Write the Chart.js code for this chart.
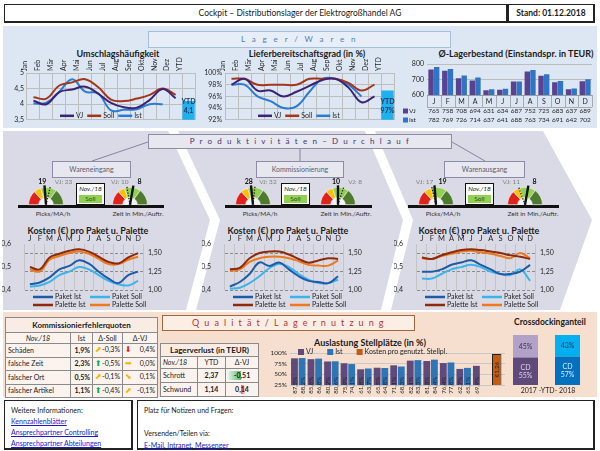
<!DOCTYPE html>
<html lang="de">
<head>
<meta charset="utf-8">
<title>Cockpit Distributionslager</title>
<script src="https://cdn.jsdelivr.net/npm/chart.js@4.4.1/dist/chart.umd.min.js"></script>
<style>
  body { margin:0; width:600px; height:451px; position:relative; overflow:hidden; background:#fff; font-family:Lato, 'Open Sans', sans-serif; color:#1a1a1a; }
  .abs { position:absolute; box-sizing:border-box; white-space:nowrap; }
  canvas { position:absolute; }
  .frame { border:1px solid #222; border-right-width:2px; border-bottom-width:2px; background:#fff; }
  .ttl { position:absolute; font-weight:bold; font-size:9px; text-align:center; white-space:nowrap; transform:translateX(-50%); }
  .sub { position:absolute; box-sizing:border-box; height:17px; background:#e7e7f0; border:1px solid #8c8ca8; color:#5b5b70; font-size:7px; text-align:center; line-height:15px; }
  .lbl { position:absolute; font-size:6.5px; color:#333; white-space:nowrap; transform:translateX(-50%); }
  .soll { position:absolute; box-sizing:border-box; border:1.5px solid #111; background:#fff; width:29px; height:22px; text-align:center; font-size:6.5px; line-height:8px; }
  .soll i { display:block; margin-top:1px; }
  .soll b { display:block; font-weight:normal; margin:2px 2px 0; background:#92d050; color:#2f4f1f; line-height:8px; }
  table { position:absolute; border-collapse:collapse; font-size:7px; table-layout:fixed; background:#fcf3ee; }
  td { border:1px solid #8a8a8a; padding:0 2px; white-space:nowrap; overflow:hidden; line-height:1; }
  td.th { font-weight:bold; font-size:8px; text-align:center; background:#f9ece4; }
  td.it { font-style:italic; }
  td.c { text-align:center; }
  td.r { text-align:right; }
  td.b { font-weight:bold; }
  .pf { font-family:'DejaVu Sans', sans-serif; font-size:8px; }
  .fr { float:right; }
  a { color:#1a1acc; text-decoration:underline; }
</style>
</head>
<body>

<svg class="abs" width="600" height="451" style="left:0;top:0">
  <rect x="3" y="26" width="594" height="102" fill="#dde7f3"/>
  <polygon points="3,131 168,131 210,220 186,310 3,310" fill="#dadae6"/>
  <polygon points="178,131 365,131 403,220 381,310 196,310 220,220" fill="#dadae6"/>
  <polygon points="375,131 543,131 592,220 560,310 391,310 413,220" fill="#dadae6"/>
  <rect x="3" y="312" width="594" height="85" fill="#f6dfcf"/>
  <line x1="148" y1="142" x2="92" y2="161" stroke="#6f6f90" stroke-width="0.8"/>
  <line x1="300" y1="149" x2="300" y2="161" stroke="#6f6f90" stroke-width="0.8"/>
  <line x1="452" y1="142" x2="485" y2="161" stroke="#6f6f90" stroke-width="0.8"/>
</svg>

<!-- Kopf -->
<div class="abs frame" style="left:4px;top:4px;width:504px;height:19px"></div>
<div class="abs" style="left:0;top:4px;width:600px;height:19px;line-height:18px;text-align:center;font-size:8.5px">Cockpit – Distributionslager der Elektrogroßhandel AG</div>
<div class="abs frame" style="left:508px;top:4px;width:87px;height:19px;line-height:17px;text-align:center;font-size:8.5px;font-weight:bold">Stand: 01.12.2018</div>

<!-- Lager / Waren -->
<div class="abs" style="left:148px;top:31px;width:303px;height:17px;background:#e8eef7;border:1px solid #a5bfdc;color:#4a7ebb;font-size:8px;line-height:15px;text-align:center;letter-spacing:2.4px">L a g e r / W a r e n</div>
<div class="ttl" style="left:118px;top:48px">Umschlagshäufigkeit</div>
<div class="ttl" style="left:307px;top:48px">Lieferbereitschaftsgrad (in %)</div>
<div class="ttl" style="left:516px;top:48px">Ø-Lagerbestand (Einstandspr. in TEUR)</div>
<canvas id="cUmschlag" width="195" height="71" style="left:3px;top:56px"></canvas>
<canvas id="cLiefer" width="197" height="71" style="left:200px;top:56px"></canvas>
<canvas id="cBestand" width="197" height="68" style="left:400px;top:57px"></canvas>

<!-- Produktivitaeten -->
<div class="abs" style="left:148px;top:134px;width:304px;height:15px;background:#e7e7f0;border:1px solid #8d8da8;color:#3d3570;font-size:8px;line-height:13px;text-align:center;letter-spacing:1.6px">P r o d u k t i v i t ä t e n – D u r c h l a u f</div>
<div class="sub" style="left:52px;top:161px;width:79px">Wareneingang</div>
<div class="sub" style="left:256px;top:161px;width:88px">Kommissionierung</div>
<div class="sub" style="left:444px;top:161px;width:81px">Warenausgang</div>

<div class="ttl" style="left:88px;top:225px">Kosten (€) pro Paket u. Palette</div>
<div class="ttl" style="left:288px;top:225px">Kosten (€) pro Paket u. Palette</div>
<div class="ttl" style="left:479px;top:225px">Kosten (€) pro Paket u. Palette</div>
<canvas id="cKostenWE" width="166" height="78" style="left:2px;top:234px"></canvas>
<canvas id="cKostenKO" width="166" height="78" style="left:202px;top:234px"></canvas>
<canvas id="cKostenWA" width="166" height="78" style="left:394px;top:234px"></canvas>

<!-- Qualitaet / Lagernutzung -->
<table id="tFehler" style="left:5px;top:317px;width:152px"></table>
<div class="abs" style="left:162px;top:315px;width:253px;height:16px;background:#fbeee5;border:1px solid #a5673f;color:#b8332a;font-size:9px;line-height:14px;text-align:center;letter-spacing:1.4px">Q u a l i t ä t / L a g e r n u t z u n g</div>
<table id="tVerlust" style="left:160px;top:343px;width:98px"></table>
<div class="ttl" style="left:370px;top:337px">Auslastung Stellplätze (in %)</div>
<canvas id="cAuslastung" width="247" height="52" style="left:258px;top:345px"></canvas>
<div class="ttl" style="left:550px;top:317px;font-size:8.5px">Crossdockinganteil</div>
<canvas id="cCross" width="95" height="52" style="left:500px;top:333px"></canvas>
<div id="crossJahre" class="abs" style="left:505px;top:386px;width:86px;text-align:center;font-size:7px;color:#262626"></div>

<!-- Fuss -->
<div class="abs frame" style="left:4px;top:400px;width:129px;height:50px;padding:4px 6px;font-size:7px;line-height:11px">
  Weitere Informationen:<br><a>Kennzahlenblätter</a><br><a>Ansprechpartner Controlling</a><br><a>Ansprechpartner Abteilungen</a>
</div>
<div class="abs frame" style="left:137px;top:400px;width:458px;height:50px;padding:4px 6px;font-size:7px;line-height:11.5px">
  Platz für Notizen und Fragen:<br><br>Versenden/Teilen via:<br><a>E-Mail</a>, <a>Intranet</a>, <a>Messenger</a>
</div>

<script>
// Monate
const monate = ['Jan', 'Feb', 'Mär', 'Apr', 'Mai', 'Jun', 'Jul', 'Aug', 'Sep', 'Okt', 'Nov', 'Dez', 'YTD'];
const mKurz = ['J', 'F', 'M', 'A', 'M', 'J', 'J', 'A', 'S', 'O', 'N', 'D'];

// Umschlagshaeufigkeit
const umschlagVJ = [4.11, 4.0, 4.39, 4.47, 4.56, 4.34, 4.04, 3.9, 3.89, 4.14, 4.49, 4.19];
const umschlagSoll = [4.22, 4.18, 4.6, 4.7, 4.8, 4.55, 4.15, 4.1, 4.18, 4.3, 4.5, 4.3];
const umschlagIst = [4.02, 4.05, 4.4, 4.8, 4.4, 4.35, 3.8, 3.82, 3.84, 4.0, 4.0, null];
const umschlagYTD = 4.1;

// Lieferbereitschaftsgrad
const lieferVJ = [98, 99, 97, 97, 96, 96.8, 97.8, 98.8, 99, 97.5, 95, 96];
const lieferSoll = [99, 99, 98, 98, 98, 98, 99, 99, 99, 98.3, 97, 98];
const lieferIst = [98, 98, 96, 95.2, 94, 94.3, 96.8, 99, 99, 98, 96, null];
const lieferYTD = 97;

// Lagerbestand
const bestandVJ = [765, 758, 708, 694, 631, 634, 687, 752, 725, 683, 637, 689];
const bestandIst = [782, 769, 726, 714, 637, 641, 688, 763, 734, 691, 642, 702];

// Tachos
const tachoBaender = [27, 13, 30, 30];
const tachoFarben = ['#e0221c', '#ffc000', '#92d050', '#4e7a2e'];
const picksIst = [19, 28, 19];
const picksVJ = [23, 32, 17];
const picksMax = [40, 60, 40];
const zeitIst = [8, 10, 8];
const zeitVJ = [10, 8, 11];
const zeitMax = [18, 20, 18];

// Kosten pro Paket / Palette
const wePaketIst = [0.425, 0.433, 0.455, 0.49, 0.505, 0.53, 0.515, 0.48, 0.45, 0.43, 0.465, 0.48];
const wePaketSoll = [0.415, 0.42, 0.435, 0.465, 0.48, 0.5, 0.49, 0.465, 0.44, 0.425, 0.42, 0.44];
const wePaletteIst = [1.31, 1.28, 1.44, 1.49, 1.53, 1.55, 1.52, 1.45, 1.38, 1.36, 1.44, 1.5];
const wePaletteSoll = [1.28, 1.25, 1.41, 1.46, 1.5, 1.52, 1.49, 1.42, 1.35, 1.35, 1.41, 1.45];
const koPaketIst = [0.415, 0.435, 0.47, 0.52, 0.505, 0.52, 0.49, 0.46, 0.44, 0.435, 0.43, 0.46];
const koPaketSoll = [0.405, 0.41, 0.43, 0.46, 0.495, 0.515, 0.5, 0.47, 0.445, 0.43, 0.43, 0.445];
const koPaletteIst = [1.28, 1.3, 1.43, 1.5, 1.52, 1.52, 1.48, 1.42, 1.37, 1.4, 1.43, 1.42];
const koPaletteSoll = [1.26, 1.28, 1.38, 1.43, 1.45, 1.45, 1.43, 1.39, 1.34, 1.33, 1.33, 1.4];
const waPaketIst = [0.48, 0.48, 0.49, 0.51, 0.52, 0.53, 0.51, 0.49, 0.47, 0.47, 0.48, 0.51];
const waPaketSoll = [0.45, 0.45, 0.47, 0.49, 0.5, 0.51, 0.5, 0.48, 0.47, 0.465, 0.49, 0.44];
const waPaletteIst = [1.44, 1.42, 1.47, 1.51, 1.54, 1.55, 1.54, 1.52, 1.5, 1.47, 1.45, 1.42];
const waPaletteSoll = [1.43, 1.42, 1.46, 1.49, 1.52, 1.53, 1.51, 1.49, 1.46, 1.43, 1.5, 1.43];

// Kommissionierfehlerquoten
const fqArten = ['Schäden', 'falsche Zeit', 'falscher Ort', 'falscher Artikel'];
const fqIst = [1.9, 2.3, 0.5, 1.1];
const fqDeltaSoll = [-0.3, -0.5, -0.1, -0.4];
const fqDeltaVJ = [0.4, 0.0, 0.1, -0.1];
const fqPfeilSoll = ['no', 'auf', 'no', 'auf'];
const fqPfeilVJ = ['ab', 'rechts', 'so', 'no'];

// Lagerverlust
const lvArten = ['Schrott', 'Schwund'];
const lvYTD = [2.37, 1.14];
const lvDeltaVJ = [-0.51, 0.14];

// Auslastung Stellplaetze
const auslastVJ = [87.5, 85.6, 80.2, 75.9, 61.8, 65.5, 71.1, 82.1, 81.3, 76.4, 62.7, 69.9];
const auslastIst = [88.2, 86.8, 80.6, 74.1, 63.7, 64.8, 68.3, 83.3, 84.4, 77.8, 65.1, null];
const kostenStellplatz = 1.26;

// Crossdocking
const cdJahre = ['2017', '2018'];
const cdAnteil = [55, 57];
const cdRest = [45, 43];

const deZahl = (v, d) => v.toFixed(d).replace('.', ',');

Chart.defaults.font.family = 'Lato';
Chart.defaults.font.size = 7;
Chart.defaults.color = '#262626';
Chart.defaults.animation = false;
Chart.defaults.responsive = false;
Chart.defaults.plugins.legend.display = false;
Chart.defaults.plugins.tooltip.enabled = false;
Chart.defaults.elements.point.radius = 0;

// kleine Legende direkt im Diagramm
const keys = {
    id: 'keys',
    afterDraw(chart, args, o) {
        if (!o.mode) return;
        const { ctx, chartArea: ca } = chart;
        ctx.save();
        ctx.font = (o.size || 7) + 'px Lato';
        ctx.textBaseline = 'middle';
        let x = ca.left + o.x;
        const y = (o.from === 'top' ? ca.top : ca.bottom) + o.y;
        chart.data.datasets.forEach((ds, i) => {
            if (ds.noKey) return;
            let px = x, py = y;
            if (o.cols) {
                px = ca.left + o.x + (i % o.cols) * o.colW;
                py = y + Math.floor(i / o.cols) * o.rowH;
            }
            if (o.mode === 'line') {
                ctx.strokeStyle = ds.borderColor;
                ctx.lineWidth = 2.5;
                ctx.beginPath(); ctx.moveTo(px, py); ctx.lineTo(px + o.len, py); ctx.stroke();
            } else {
                ctx.fillStyle = ds.backgroundColor;
                ctx.fillRect(px, py - 3, o.len, 6);
            }
            ctx.fillStyle = '#262626';
            ctx.fillText(ds.label, px + o.len + 2, py);
            x = px + o.len + 2 + ctx.measureText(ds.label).width + o.gap;
        });
        ctx.restore();
    }
};

// YTD-Beschriftung im Balken
const ytdLabel = {
    id: 'ytdLabel',
    afterDatasetsDraw(chart) {
        chart.data.datasets.forEach((ds, i) => {
            if (!ds.ytdText) return;
            const bar = chart.getDatasetMeta(i).data[ds.data.length - 1];
            const ctx = chart.ctx;
            const b = chart.chartArea.bottom;
            ctx.save();
            ctx.font = 'bold 7px Lato';
            ctx.fillStyle = '#1f3864';
            ctx.textAlign = 'center';
            ctx.textBaseline = 'middle';
            ctx.fillText('YTD', bar.x, b - 18);
            ctx.fillText(ds.ytdText, bar.x, b - 9);
            ctx.restore();
        });
    }
};

// Tabelle unter dem Lagerbestand
const bestandTabelle = {
    id: 'bestandTabelle',
    afterDraw(chart, args, o) {
        if (!o.rows) return;
        const { ctx, chartArea: ca, scales: { x } } = chart;
        const n = chart.data.labels.length;
        const w = (ca.right - ca.left) / n;
        ctx.save();
        ctx.strokeStyle = '#8f8f8f';
        ctx.lineWidth = 0.7;
        ctx.beginPath();
        ctx.moveTo(ca.left, ca.bottom + 0.5); ctx.lineTo(ca.right, ca.bottom + 0.5);
        ctx.moveTo(ca.left, ca.bottom + 12.5); ctx.lineTo(ca.right, ca.bottom + 12.5);
        for (let i = 0; i <= n; i++) {
            const xb = Math.round(ca.left + i * w) + 0.5;
            ctx.moveTo(xb, ca.bottom); ctx.lineTo(xb, ca.bottom + 12);
        }
        ctx.stroke();
        ctx.textAlign = 'center';
        ctx.textBaseline = 'middle';
        ctx.fillStyle = '#262626';
        ctx.font = '7px Lato';
        chart.data.labels.forEach((l, i) => ctx.fillText(l, x.getPixelForValue(i), ca.bottom + o.rows[0]));
        ctx.font = '6.5px Lato';
        chart.data.datasets.forEach((ds, j) => {
            const yy = ca.bottom + o.rows[j + 1];
            ctx.textAlign = 'center';
            ctx.fillStyle = '#262626';
            ds.data.forEach((v, i) => ctx.fillText(v, x.getPixelForValue(i), yy));
            ctx.fillStyle = ds.backgroundColor;
            ctx.fillRect(ca.left - 24, yy - 2.5, 5, 5);
            ctx.fillStyle = '#262626';
            ctx.textAlign = 'left';
            ctx.fillText(ds.label, ca.left - 18, yy);
        });
        ctx.restore();
    }
};

// Werte in den Balken
const barText = {
    id: 'barText',
    afterDatasetsDraw(chart, args, o) {
        if (!o.mode) return;
        const ctx = chart.ctx;
        chart.data.datasets.forEach((ds, i) => {
            if (!ds.valueText) return;
            chart.getDatasetMeta(i).data.forEach((bar, j) => {
                const v = ds.data[j];
                if (v === null || v === undefined) return;
                ctx.save();
                ctx.fillStyle = Array.isArray(ds.textColor) ? ds.textColor[j] : (ds.textColor || '#222');
                ctx.textBaseline = 'middle';
                if (o.mode === 'vertical') {
                    ctx.font = '6px Lato';
                    if (ds.centerText) {
                        ctx.translate(bar.x, (bar.y + bar.base) / 2);
                        ctx.textAlign = 'center';
                    } else {
                        ctx.translate(bar.x, bar.base - 2);
                        ctx.textAlign = 'left';
                    }
                    ctx.rotate(-Math.PI / 2);
                    ctx.fillText(ds.valueText(v), 0, 0.5);
                } else {
                    ctx.font = '7px Lato';
                    ctx.textAlign = 'center';
                    const zeilen = ds.valueText(v).split('\n');
                    const mid = (bar.y + bar.base) / 2;
                    zeilen.forEach((z, k) => ctx.fillText(z, bar.x, mid + (k - (zeilen.length - 1) / 2) * 8));
                }
                ctx.restore();
            });
        });
    }
};

// Tachonadeln
const tachoNadel = {
    id: 'tachoNadel',
    beforeDatasetsDraw(chart, args, o) {
        if (o.value === undefined) return;
        const arc = chart.getDatasetMeta(0).data[0];
        const ctx = chart.ctx;
        ctx.save();
        ctx.fillStyle = '#f3f3f3';
        ctx.beginPath();
        ctx.arc(arc.x, arc.y, arc.innerRadius, Math.PI, 2 * Math.PI);
        ctx.fill();
        ctx.restore();
    },
    afterDatasetsDraw(chart, args, o) {
        if (o.value === undefined) return;
        const arc = chart.getDatasetMeta(0).data[0];
        const cx = arc.x, cy = arc.y, r = arc.outerRadius;
        const ctx = chart.ctx;
        const winkel = v => {
            let f = Math.min(Math.max(v / o.max, 0), 1);
            if (o.reverse) f = 1 - f;
            return Math.PI * (1 + f);
        };
        const nadel = (v, gepunktet) => {
            const w = winkel(v);
            ctx.save();
            ctx.strokeStyle = '#111';
            ctx.lineWidth = gepunktet ? 1.3 : 2.4;
            ctx.setLineDash(gepunktet ? [1.2, 1.6] : []);
            ctx.beginPath();
            ctx.moveTo(cx, cy);
            ctx.lineTo(cx + (r + 2) * Math.cos(w), cy + (r + 2) * Math.sin(w));
            ctx.stroke();
            ctx.restore();
            return cx + (r + 3) * Math.cos(w);
        };
        const xVJ = nadel(o.vj, true);
        const xIst = nadel(o.value, false);
        const y = chart.chartArea.top - 5;
        const texte = [
            { x: xIst, t: String(o.value), f: 'bold 7px Lato', c: '#111' },
            { x: xVJ, t: 'VJ: ' + o.vj, f: '6.5px Lato', c: '#808080' }
        ].sort((p, q) => p.x - q.x);
        ctx.save();
        ctx.textBaseline = 'middle';
        ctx.font = texte[0].f; ctx.fillStyle = texte[0].c; ctx.textAlign = 'right';
        ctx.fillText(texte[0].t, texte[0].x + 2, y);
        ctx.font = texte[1].f; ctx.fillStyle = texte[1].c; ctx.textAlign = 'left';
        ctx.fillText(texte[1].t, texte[1].x + 4, y);
        ctx.restore();
    }
};

Chart.register(keys, ytdLabel, bestandTabelle, barText, tachoNadel);

// ---------- Lager / Waren ----------
function lagerLinien(id, vj, soll, ist, ytd, ytdText, yMin, yMax, yStep, yFmt, yBreite) {
    const ytdReihe = monate.map((m, i) => (i === monate.length - 1 ? ytd : null));
    return new Chart(document.getElementById(id), {
        type: 'line',
        data: {
            labels: monate,
            datasets: [
                { label: 'VJ', data: vj, borderColor: '#3b2274' },
                { label: 'Soll', data: soll, borderColor: '#a3351c' },
                { label: 'Ist', data: ist, borderColor: '#2c7bd3' },
                { type: 'bar', label: 'YTD', data: ytdReihe, backgroundColor: '#1fb1ee', categoryPercentage: 1, barPercentage: 0.95, noKey: true, ytdText: ytdText }
            ]
        },
        options: {
            layout: { padding: { right: 3, bottom: 4 } },
            elements: { line: { borderWidth: 2, tension: 0.4 } },
            scales: {
                x: {
                    position: 'top', offset: true,
                    grid: { offset: true, color: '#bdbdbd', drawTicks: false },
                    border: { display: false },
                    ticks: { minRotation: 90, maxRotation: 90, autoSkip: false, padding: 2 },
                    afterFit: s => { s.height = 17; }
                },
                y: {
                    min: yMin, max: yMax,
                    ticks: { stepSize: yStep, padding: 3, autoSkip: false, callback: yFmt },
                    grid: { color: '#bdbdbd', drawTicks: false },
                    border: { display: false },
                    afterFit: s => { s.width = yBreite; }
                }
            },
            plugins: { keys: { mode: 'line', x: 33, y: -4, len: 14, gap: 4 } }
        }
    });
}

lagerLinien('cUmschlag', umschlagVJ, umschlagSoll, umschlagIst, umschlagYTD, deZahl(umschlagYTD, 1),
    3.5, 5, 0.5, v => String(v).replace('.', ','), 24);
lagerLinien('cLiefer', lieferVJ, lieferSoll, lieferIst, lieferYTD, lieferYTD + '%',
    92, 100, 2, v => v + '%', 25);

new Chart(document.getElementById('cBestand'), {
    type: 'bar',
    data: {
        labels: mKurz,
        datasets: [
            { label: 'VJ', data: bestandVJ, backgroundColor: '#5b4290' },
            { label: 'Ist', data: bestandIst, backgroundColor: '#2f74c5' }
        ]
    },
    options: {
        layout: { padding: { top: 3, bottom: 30, right: 5 } },
        datasets: { bar: { categoryPercentage: 0.82, barPercentage: 0.96 } },
        scales: {
            x: { grid: { display: false }, border: { display: false }, ticks: { display: false }, afterFit: s => { s.height = 0; } },
            y: {
                min: 600, max: 800,
                ticks: { stepSize: 100, padding: 3, autoSkip: false },
                grid: { color: '#bdbdbd', drawTicks: false },
                border: { display: false },
                afterFit: s => { s.width = 27; }
            }
        },
        plugins: { bestandTabelle: { rows: [6.5, 16, 25] } }
    }
});

// ---------- Produktivitaeten / Durchlauf ----------
const linkerTacho = [46, 253, 436];
const rechterTacho = [130, 338, 525];
const sollBox = [76, 281, 465];

function tacho(cx, ist, vj, max, umgekehrt) {
    const c = document.createElement('canvas');
    c.width = 70; c.height = 31;
    c.style.left = (cx - 35) + 'px';
    c.style.top = '176px';
    document.body.appendChild(c);
    new Chart(c, {
        type: 'doughnut',
        data: { labels: ['rot', 'gelb', 'hellgrün', 'grün'], datasets: [{ data: tachoBaender, backgroundColor: tachoFarben, borderWidth: 0.6, borderColor: '#f3f3f3' }] },
        options: {
            rotation: -90, circumference: 180, cutout: '42%',
            layout: { padding: { top: 11, bottom: 2, left: 16, right: 16 } },
            plugins: { tachoNadel: { value: ist, vj: vj, max: max, reverse: umgekehrt } }
        }
    });
}

function htmlElement(cls, style, html) {
    const d = document.createElement('div');
    d.className = cls;
    d.style.cssText = style;
    d.innerHTML = html;
    document.body.appendChild(d);
}

linkerTacho.forEach((cxL, k) => {
    const cxR = rechterTacho[k];
    htmlElement('abs', `left:${cxL - 28}px;top:205px;width:${cxR - cxL + 62}px;height:3px;background:#111`, '');
    tacho(cxL, picksIst[k], picksVJ[k], picksMax[k], false);
    tacho(cxR, zeitIst[k], zeitVJ[k], zeitMax[k], true);
    htmlElement('soll', `left:${sollBox[k]}px;top:183px`, '<i>Nov./18</i><b>Soll</b>');
    htmlElement('lbl', `left:${cxL + 7}px;top:210px`, 'Picks/MA/h');
    htmlElement('lbl', `left:${cxR + 8}px;top:210px`, 'Zeit in Min./Auftr.');
});

function kostenChart(id, pIst, pSoll, palIst, palSoll) {
    const nurViertel = s => { s.ticks = s.ticks.filter(t => Math.abs(t.value * 4 - Math.round(t.value * 4)) < 1e-6); };
    new Chart(document.getElementById(id), {
        type: 'line',
        data: {
            labels: mKurz,
            datasets: [
                { label: 'Paket Ist', data: pIst, borderColor: '#1f5aa6', yAxisID: 'y' },
                { label: 'Paket Soll', data: pSoll, borderColor: '#3cb4ea', yAxisID: 'y' },
                { label: 'Palette Ist', data: palIst, borderColor: '#8e2a0c', yAxisID: 'y1' },
                { label: 'Palette Soll', data: palSoll, borderColor: '#ec7a1c', yAxisID: 'y1' }
            ]
        },
        options: {
            layout: { padding: { bottom: 22 } },
            elements: { line: { borderWidth: 2, tension: 0.4 } },
            scales: {
                x: {
                    position: 'top', offset: true,
                    grid: { offset: true, color: '#c4c4c4', drawTicks: false },
                    border: { display: false },
                    ticks: { padding: 1, maxRotation: 0, autoSkip: false, font: { size: 7.5 } },
                    afterFit: s => { s.height = 10; }
                },
                y: {
                    position: 'left', min: 0.4, max: 0.6,
                    ticks: { stepSize: 0.1, padding: 6, autoSkip: false, callback: v => deZahl(v, 1) },
                    grid: { display: false },
                    border: { display: false },
                    afterFit: s => { s.width = 23; }
                },
                y1: {
                    position: 'right', min: 1, max: 1.62,
                    ticks: { stepSize: 0.25, padding: 5, autoSkip: false, callback: v => deZahl(v, 2) },
                    grid: { color: '#8c8c8c', drawTicks: false },
                    border: { display: false, dash: [3, 2] },
                    afterBuildTicks: nurViertel,
                    afterFit: s => { s.width = 25; }
                }
            },
            plugins: { keys: { mode: 'line', x: 8, y: 7, len: 20, gap: 0, cols: 2, colW: 57, rowH: 8 } }
        }
    });
}

kostenChart('cKostenWE', wePaketIst, wePaketSoll, wePaletteIst, wePaletteSoll);
kostenChart('cKostenKO', koPaketIst, koPaketSoll, koPaletteIst, koPaletteSoll);
kostenChart('cKostenWA', waPaketIst, waPaketSoll, waPaletteIst, waPaletteSoll);

// ---------- Qualitaet / Lagernutzung ----------
const pfeile = { auf: ['⬆', '#00b050'], ab: ['⬇', '#e8201c'], rechts: ['➡', '#f2b800'], no: ['⬈', '#f2b800'], so: ['⬊', '#f2b800'] };
const pfeil = k => `<span class="pf" style="color:${pfeile[k][1]}">${pfeile[k][0]}</span>`;
const pct = v => deZahl(v, 1) + '%';

let h = '<colgroup><col style="width:65px"><col style="width:22px"><col style="width:30px"><col style="width:35px"></colgroup>';
h += '<tr style="height:15px"><td colspan="4" class="th">Kommissionierfehlerquoten</td></tr>';
h += '<tr style="height:11px"><td class="it c">Nov./18</td><td class="c">Ist</td><td class="c">Δ-Soll</td><td class="c">Δ-VJ</td></tr>';
fqArten.forEach((a, i) => {
    h += `<tr style="height:13.5px"><td>${a}</td><td class="r b">${pct(fqIst[i])}</td>` +
         `<td>${pfeil(fqPfeilSoll[i])}<span class="fr">${pct(fqDeltaSoll[i])}</span></td>` +
         `<td>${pfeil(fqPfeilVJ[i])}<span class="fr">${pct(fqDeltaVJ[i])}</span></td></tr>`;
});
document.getElementById('tFehler').innerHTML = h;

const achse = 15, proEinheit = 26;
h = '<colgroup><col style="width:37px"><col style="width:28px"><col style="width:33px"></colgroup>';
h += '<tr style="height:13px"><td colspan="3" class="th">Lagerverlust (in TEUR)</td></tr>';
h += '<tr style="height:12px"><td class="it">Nov./18</td><td class="c">YTD</td><td class="c">Δ-VJ</td></tr>';
lvArten.forEach((a, i) => {
    const v = lvDeltaVJ[i];
    const breite = Math.abs(v) * proEinheit;
    const balken = v < 0
        ? `<div style="position:absolute;top:2px;bottom:2px;left:${achse - breite}px;width:${breite}px;background:linear-gradient(to left,#5cb86f,#e3f4e6)"></div>`
        : `<div style="position:absolute;top:2px;bottom:2px;left:${achse}px;width:${breite}px;background:linear-gradient(to right,#f0555a,#fbe1e2)"></div>`;
    h += `<tr style="height:14px"><td>${a}</td><td class="c b">${deZahl(lvYTD[i], 2)}</td>` +
         `<td style="position:relative;padding:0">${balken}<div style="position:relative;text-align:center;font-weight:bold">${deZahl(v, 2)}</div></td></tr>`;
});
document.getElementById('tVerlust').innerHTML = h;

new Chart(document.getElementById('cAuslastung'), {
    type: 'bar',
    data: {
        labels: [...mKurz, ''],
        datasets: [
            { label: 'VJ', data: auslastVJ, backgroundColor: '#604a7b', valueText: v => deZahl(v, 1) + '%', textColor: '#1e1e1e' },
            { label: 'Ist', data: auslastIst, backgroundColor: '#2e75b6', valueText: v => deZahl(v, 1) + '%', textColor: '#1e1e1e' },
            {
                label: 'Kosten pro genutzt. Stellpl.',
                data: mKurz.map(() => null).concat([kostenStellplatz]),
                backgroundColor: '#c55a11', borderColor: '#222', borderWidth: 1,
                yAxisID: 'y2', grouped: false, barPercentage: 0.62,
                valueText: v => '€' + deZahl(v, 2), textColor: '#1e1e1e', centerText: true
            }
        ]
    },
    options: {
        layout: { padding: { top: 8 } },
        datasets: { bar: { categoryPercentage: 0.92, barPercentage: 0.9 } },
        scales: {
            x: { grid: { display: false }, border: { display: false }, ticks: { padding: 2, autoSkip: false, maxRotation: 0, font: { size: 6.5 } }, afterFit: s => { s.height = 12; } },
            y: {
                min: 25, max: 100,
                ticks: { stepSize: 25, padding: 3, autoSkip: false, callback: v => v + '%', font: { size: 6.5 } },
                grid: { color: '#c8c8c8', drawTicks: false },
                border: { display: false },
                afterFit: s => { s.width = 32; }
            },
            y2: { display: false, min: 0, max: 1.3 }
        },
        plugins: {
            keys: { mode: 'box', x: 8, y: -1, from: 'top', len: 6, gap: 14 },
            barText: { mode: 'vertical' }
        }
    }
});

new Chart(document.getElementById('cCross'), {
    type: 'bar',
    data: {
        labels: cdJahre,
        datasets: [
            { label: 'CD', data: cdAnteil, backgroundColor: ['#5f497a', '#0070c0'], textColor: ['#ddd5ec', '#dcebfb'], valueText: v => 'CD\n' + v + '%' },
            { label: 'Rest', data: cdRest, backgroundColor: ['#b3a2c7', '#00b0f0'], textColor: ['#3f3151', '#1f3864'], valueText: v => v + '%' }
        ]
    },
    options: {
        layout: { padding: { top: 2, left: 4.5, right: 6.5 } },
        datasets: { bar: { categoryPercentage: 0.7, barPercentage: 0.85 } },
        scales: {
            x: { stacked: true, display: false },
            y: { stacked: true, display: false, min: 0, max: 100 }
        },
        plugins: { barText: { mode: 'center' } }
    }
});
document.getElementById('crossJahre').textContent = cdJahre[0] + ' -YTD- ' + cdJahre[1];
</script>
</body>
</html>
